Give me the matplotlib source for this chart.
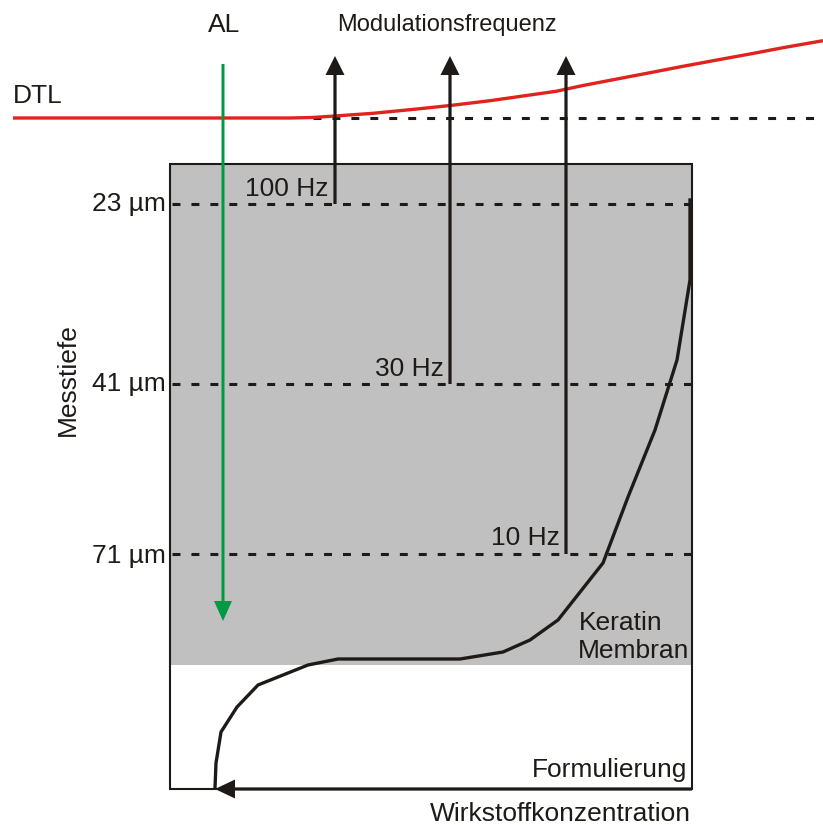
import matplotlib
matplotlib.use("Agg")
import matplotlib.pyplot as plt
from matplotlib.patches import Rectangle, FancyArrow

plt.rcParams['font.family'] = ['Liberation Sans', 'DejaVu Sans']

# ---- data (diagram coordinates in pixels) ----
depth_labels = ["23 µm", "41 µm", "71 µm"]
depth_y = [204, 384, 554]
freq_labels = ["100 Hz", "30 Hz", "10 Hz"]
freq_x = [335, 450, 566]

profile_x = [690, 690, 677, 655, 628, 603, 558, 530, 503, 460, 338, 308, 258, 237, 221, 216, 215]
profile_y = [200, 280, 360, 430, 497, 563, 620, 640, 652, 659, 659, 665, 685, 707, 732, 763, 788]

dtl_x = [13, 290, 312, 335, 373, 417, 452, 490, 523, 556, 583, 617, 650, 683, 717, 750, 783, 823]
dtl_y = [118, 118, 117.5, 116, 113.3, 109, 105.3, 100.7, 96, 91.3, 85.5, 79, 72.7, 66.3, 60, 54, 47.7, 40.7]

BLACK = "#1e1a18"
RED = "#e0231c"
GREEN = "#009a44"
GRAY = "#c0c0c0"

fig = plt.figure(figsize=(8.23, 8.25), dpi=100)
ax = fig.add_axes([0, 0, 1, 1])
ax.set_xlim(0, 823)
ax.set_ylim(825, 0)
ax.axis("off")

box_l, box_r, box_t, box_b, gray_b = 170, 692, 164, 789, 665

ax.add_patch(Rectangle((box_l, box_t), box_r - box_l, gray_b - box_t,
                       facecolor=GRAY, edgecolor="none", zorder=1))
ax.add_patch(Rectangle((box_l, box_t), box_r - box_l, box_b - box_t,
                       facecolor="none", edgecolor=BLACK, lw=1.5, zorder=3))

dash = dict(color=BLACK, lw=2.2, dashes=(2.6, 3.6), dash_capstyle="butt", zorder=2)
# dashed depth lines
for y in depth_y:
    ax.plot([box_l + 2, box_r], [y, y], **dash)
# top dashed reference line
ax.plot([313, 815], [118, 118], **dash)

# DTL red line
ax.plot(dtl_x, dtl_y, color=RED, lw=2.4, zorder=4, solid_capstyle="butt",
        solid_joinstyle="round")

# green AL arrow
ax.add_patch(FancyArrow(223, 64, 0, 621 - 64, width=3, head_width=18, head_length=20,
                        length_includes_head=True, color=GREEN, zorder=5, lw=0))

# modulation frequency arrows
for x, y in zip(freq_x, depth_y):
    ax.add_patch(FancyArrow(x, y, 0, 56 - y, width=3.2, head_width=19, head_length=19,
                            length_includes_head=True, color=BLACK, zorder=5, lw=0))

# concentration profile
ax.plot(profile_x, profile_y, color=BLACK, lw=2.4, zorder=5, solid_joinstyle="miter")

# bottom concentration arrow
ax.add_patch(FancyArrow(box_r, box_b, 215 - box_r, 0, width=3.2, head_width=19, head_length=20,
                        length_includes_head=True, color=BLACK, zorder=6, lw=0))

fs = 19
txt = dict(color=BLACK, fontsize=fs)
ax.text(224, 32, "AL", ha="center", va="baseline", **txt)
ax.text(447, 31, "Modulationsfrequenz", ha="center", va="baseline", color=BLACK, fontsize=17)
ax.text(13, 103, "DTL", ha="left", va="baseline", **txt)

for lab, y, bl in zip(depth_labels, depth_y, [211, 391, 563]):
    ax.text(166, bl, lab, ha="right", va="baseline", **txt)

for lab, x, bl in zip(freq_labels, freq_x, [196, 376, 545]):
    ax.text(x - 6, bl, lab, ha="right", va="baseline", **txt)

ax.text(68, 380, "Messtiefe", rotation=90, ha="center", va="center", **txt)
ax.text(579, 630, "Keratin", ha="left", va="baseline", **txt)
ax.text(689, 658, "Membran", ha="right", va="baseline", **txt)
ax.text(687, 777, "Formulierung", ha="right", va="baseline", **txt)
ax.text(691, 821, "Wirkstoffkonzentration", ha="right", va="baseline", **txt)

fig.savefig("out.png", dpi=100)
